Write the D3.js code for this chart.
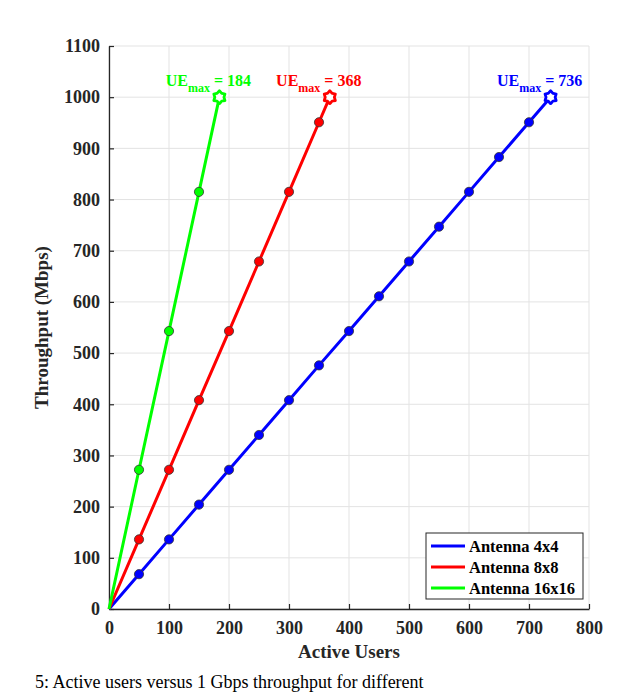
<!DOCTYPE html>
<html>
<head>
<meta charset="utf-8">
<script src="https://cdn.jsdelivr.net/npm/d3@7"></script>
<style>
	body{margin:0;background:#fff;}
	text{font-family:"Liberation Serif","Times New Roman",serif;font-weight:bold;}
</style>
</head>
<body>
<div id="chart"></div>
<script>
// values
const users4x4 = [0, 50, 100, 150, 200, 250, 300, 350, 400, 450, 500, 550, 600, 650, 700, 736];
const thr4x4 = [0, 68, 136, 204, 272, 340, 408, 476, 543, 611, 679, 747, 815, 883, 951, 1000];
const users8x8 = [0, 50, 100, 150, 200, 250, 300, 350, 368];
const thr8x8 = [0, 136, 272, 408, 543, 679, 815, 951, 1000];
const users16x16 = [0, 50, 100, 150, 184];
const thr16x16 = [0, 272, 543, 815, 1000];
const seriesNames = ["Antenna 4x4", "Antenna 8x8", "Antenna 16x16"];
const seriesColors = ["#0000ff", "#ff0000", "#00ff00"];
const ueMax = [736, 368, 184];
const xTicks = d3.range(0, 801, 100);
const yTicks = d3.range(0, 1101, 100);

const W = 635, H = 693;
const svg = d3.select("#chart").append("svg").attr("width", W).attr("height", H);

const x = d3.scaleLinear().domain([0, 800]).range([109, 589]);
const y = d3.scaleLinear().domain([0, 1100]).range([609, 46]);

// grid
svg.append("g").selectAll("line").data(xTicks).enter().append("line")
	.attr("x1", d => x(d)).attr("x2", d => x(d)).attr("y1", y(0)).attr("y2", y(1100))
	.attr("stroke", "#e3e3e3").attr("stroke-width", 1);
svg.append("g").selectAll("line").data(yTicks).enter().append("line")
	.attr("x1", x(0)).attr("x2", x(800)).attr("y1", d => y(d)).attr("y2", d => y(d))
	.attr("stroke", "#e3e3e3").attr("stroke-width", 1);

// axes, ticks inward
const xAxis = svg.append("g").attr("transform", "translate(0," + y(0) + ")")
	.call(d3.axisBottom(x).tickValues(xTicks).tickFormat(d3.format("d"))
		.tickSizeInner(-5).tickSizeOuter(0).tickPadding(12));
const yAxis = svg.append("g").attr("transform", "translate(" + x(0) + ",0)")
	.call(d3.axisLeft(y).tickValues(yTicks).tickFormat(d3.format("d"))
		.tickSizeInner(-5).tickSizeOuter(0).tickPadding(9));
[xAxis, yAxis].forEach(function(a){
	a.select(".domain").attr("stroke", "#262626").attr("stroke-width", 1.3);
	a.selectAll(".tick line").attr("stroke", "#262626").attr("stroke-width", 1.2);
	a.selectAll(".tick text").attr("fill", "#262626").style("font-size", "18px")
		.style("font-family", "'Liberation Serif',serif").style("font-weight", "bold");
});

// series
const series = [
	{xs: users4x4, ys: thr4x4},
	{xs: users8x8, ys: thr8x8},
	{xs: users16x16, ys: thr16x16}
];
const line = d3.line().x(d => x(d[0])).y(d => y(d[1]));

function hexagram(r){
	let pts = [];
	for(let i = 0; i < 12; i++){
		let a = Math.PI / 6 * i - Math.PI / 2;
		let rr = i % 2 === 0 ? r : r * 0.7;
		pts.push([Math.cos(a) * rr, Math.sin(a) * rr]);
	}
	return d3.line().curve(d3.curveCardinalClosed.tension(0.6))(pts);
}

series.forEach(function(s, k){
	let pts = s.xs.map((v, i) => [v, s.ys[i]]);
	let g = svg.append("g");
	g.append("path").datum(pts).attr("d", line)
		.attr("fill", "none").attr("stroke", seriesColors[k]).attr("stroke-width", 3);
	g.selectAll("circle").data(pts.slice(1, -1)).enter().append("circle")
		.attr("cx", d => x(d[0])).attr("cy", d => y(d[1])).attr("r", 4.6)
		.attr("fill", seriesColors[k]).attr("stroke", "#333").attr("stroke-width", 0.8);
	let last = pts[pts.length - 1];
	g.append("path").attr("d", hexagram(6.5))
		.attr("transform", "translate(" + x(last[0]) + "," + y(last[1]) + ")")
		.attr("fill", "#fff").attr("stroke", seriesColors[k]).attr("stroke-width", 2.8);

	let t = g.append("text").attr("x", x(ueMax[k]) - 11).attr("y", y(1022))
		.attr("text-anchor", "middle").attr("fill", seriesColors[k]).style("font-size", "16px");
	t.append("tspan").text("UE");
	t.append("tspan").attr("dy", 6).style("font-size", "12px").text("max");
	t.append("tspan").attr("dy", -6).text(" = " + ueMax[k]);
});

// legend
const lg = svg.append("g");
lg.append("rect").attr("x", 426).attr("y", 533).attr("width", 157).attr("height", 66)
	.attr("fill", "#fff").attr("stroke", "#262626").attr("stroke-width", 1);
seriesNames.forEach(function(n, i){
	let cy = 546 + i * 21;
	lg.append("line").attr("x1", 431).attr("x2", 465).attr("y1", cy).attr("y2", cy)
		.attr("stroke", seriesColors[i]).attr("stroke-width", 3);
	lg.append("text").attr("x", 469).attr("y", cy + 6).attr("fill", "#000")
		.style("font-size", "16.5px").text(n);
});

// axis labels
svg.append("text").attr("x", (x(0) + x(800)) / 2).attr("y", 658).attr("text-anchor", "middle")
	.attr("fill", "#262626").style("font-size", "19px").text("Active Users");
svg.append("text").attr("transform", "translate(48," + (y(0) + y(1100)) / 2 + ") rotate(-90)")
	.attr("text-anchor", "middle").attr("fill", "#262626").style("font-size", "19px").text("Throughput (Mbps)");

// caption line at the bottom edge
svg.append("text").attr("x", 35).attr("y", 688).attr("fill", "#000")
	.style("font-size", "18px").style("font-weight", "normal")
	.text("5: Active users versus 1 Gbps throughput for different");
</script>
</body>
</html>
